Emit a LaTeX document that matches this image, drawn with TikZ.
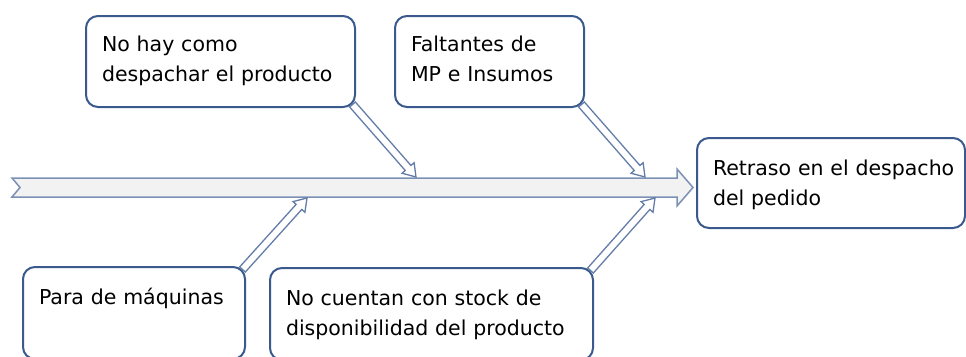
\documentclass[tikz,border=0pt]{standalone}
\usepackage{fontspec}
\setmainfont{DejaVu Sans}
\usetikzlibrary{calc}

\definecolor{boxblue}{RGB}{58,90,142}
\definecolor{bonegray}{RGB}{100,125,168}
\definecolor{spinefill}{RGB}{242,242,242}

\newcommand{\bonearrow}[3]{%
  \coordinate (#1s) at (#2);
  \coordinate (#1t) at (#3);
  \coordinate (#1h) at ($(#1t)!12pt!(#1s)$);
  \draw[bone] ($(#1s)!3.8pt!90:(#1t)$) -- ($(#1h)!3.8pt!90:(#1t)$) -- ($(#1h)!8pt!90:(#1t)$)
    -- (#1t) -- ($(#1h)!8pt!-90:(#1t)$) -- ($(#1h)!3.8pt!-90:(#1t)$) -- ($(#1s)!3.8pt!-90:(#1t)$) -- cycle;}

\begin{document}
\begin{tikzpicture}
  [x=1pt,y=-1pt,
   box/.style={draw=boxblue,line width=2pt,rounded corners=12pt,fill=white,
     anchor=north west,align=left,inner xsep=16pt,inner ysep=0pt,text height=35pt,
     font=\fontsize{20.5}{30}\selectfont},
   bone/.style={draw=bonegray,line width=1.3pt,fill=white,line join=miter},
   spine/.style={draw=bonegray!85,line width=1.5pt,fill=spinefill,line join=miter}]
  \useasboundingbox (0,0) rectangle (966,356);

  \draw[spine] (12,178) -- (677,178) -- (677,169) -- (693,187.5) -- (677,206)
    -- (677,197) -- (12,197) -- (20,187.5) -- cycle;
  \coordinate (t1) at (416,177);
  \coordinate (t2) at (645,177);
  \coordinate (t3) at (307,198);
  \coordinate (t4) at (655,198);

  \node[box,text width=237pt,text depth=56pt] (b1) at (85,15) {No hay como\\despachar el producto};
  \node[box,text width=157pt,text depth=56pt] (b2) at (394,15) {Faltantes de\\MP e Insumos};
  \node[box,text width=190pt,text height=37pt,text depth=55pt] (b3) at (22,266) {Para de máquinas};
  \node[box,text width=291pt,text height=37pt,text depth=55pt] (b4) at (269,267) {No cuentan con stock de\\disponibilidad del producto};
  \node[box,text width=236pt,text height=37pt,text depth=53pt] (b5) at (696,137) {\mbox{Retraso en el despacho}\\del pedido};

  \bonearrow{a1}{$(b1.south east)+(-3.5,-3.5)$}{t1}
  \bonearrow{a2}{$(b2.south east)+(-3.5,-3.5)$}{t2}
  \bonearrow{a3}{$(b3.north east)+(-3.5,3.5)$}{t3}
  \bonearrow{a4}{$(b4.north east)+(-3.5,3.5)$}{t4}
\end{tikzpicture}
\end{document}
